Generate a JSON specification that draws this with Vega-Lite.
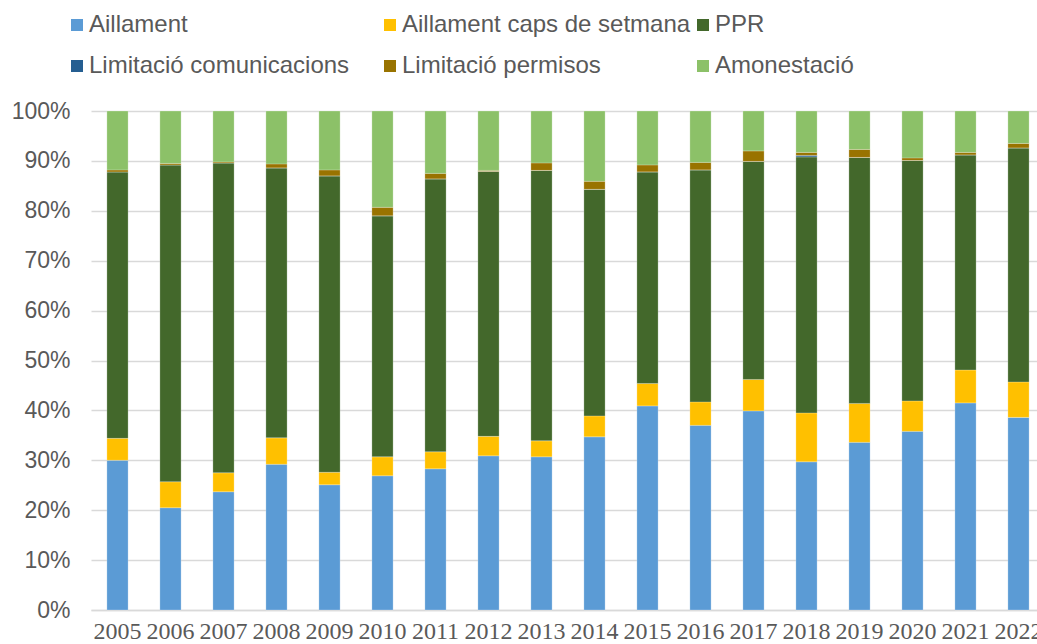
{
  "$schema": "https://vega.github.io/schema/vega-lite/v6.json",
  "width": 954,
  "height": 499,
  "autosize": {"type": "none"},
  "padding": {"left": 91, "top": 111, "right": 0, "bottom": 34},
  "background": "#ffffff",
  "config": {
    "view": {"stroke": null},
    "font": "Liberation Sans"
  },
  "data": {
    "values": [
      {"year": "2005", "Aillament": 30.0, "Aillament caps de setmana": 4.4, "PPR": 53.4, "Limitació comunicacions": 0, "Limitació permisos": 0.4, "Amonestació": 11.8},
      {"year": "2006", "Aillament": 20.5, "Aillament caps de setmana": 5.2, "PPR": 63.5, "Limitació comunicacions": 0, "Limitació permisos": 0.3, "Amonestació": 10.5},
      {"year": "2007", "Aillament": 23.7, "Aillament caps de setmana": 3.8, "PPR": 62.1, "Limitació comunicacions": 0, "Limitació permisos": 0.2, "Amonestació": 10.2},
      {"year": "2008", "Aillament": 29.2, "Aillament caps de setmana": 5.3, "PPR": 54.1, "Limitació comunicacions": 0, "Limitació permisos": 0.8, "Amonestació": 10.6},
      {"year": "2009", "Aillament": 25.1, "Aillament caps de setmana": 2.5, "PPR": 59.4, "Limitació comunicacions": 0, "Limitació permisos": 1.2, "Amonestació": 11.8},
      {"year": "2010", "Aillament": 26.9, "Aillament caps de setmana": 3.8, "PPR": 48.3, "Limitació comunicacions": 0, "Limitació permisos": 1.7, "Amonestació": 19.3},
      {"year": "2011", "Aillament": 28.3, "Aillament caps de setmana": 3.4, "PPR": 54.7, "Limitació comunicacions": 0, "Limitació permisos": 1.1, "Amonestació": 12.5},
      {"year": "2012", "Aillament": 30.9, "Aillament caps de setmana": 3.9, "PPR": 53.1, "Limitació comunicacions": 0, "Limitació permisos": 0.2, "Amonestació": 11.9},
      {"year": "2013", "Aillament": 30.7, "Aillament caps de setmana": 3.2, "PPR": 54.2, "Limitació comunicacions": 0, "Limitació permisos": 1.5, "Amonestació": 10.4},
      {"year": "2014", "Aillament": 34.7, "Aillament caps de setmana": 4.2, "PPR": 45.4, "Limitació comunicacions": 0, "Limitació permisos": 1.6, "Amonestació": 14.1},
      {"year": "2015", "Aillament": 40.9, "Aillament caps de setmana": 4.5, "PPR": 42.4, "Limitació comunicacions": 0, "Limitació permisos": 1.4, "Amonestació": 10.8},
      {"year": "2016", "Aillament": 37.0, "Aillament caps de setmana": 4.7, "PPR": 46.5, "Limitació comunicacions": 0, "Limitació permisos": 1.5, "Amonestació": 10.3},
      {"year": "2017", "Aillament": 39.9, "Aillament caps de setmana": 6.3, "PPR": 43.7, "Limitació comunicacions": 0, "Limitació permisos": 2.1, "Amonestació": 8.0},
      {"year": "2018", "Aillament": 29.7, "Aillament caps de setmana": 9.8, "PPR": 51.3, "Limitació comunicacions": 0.3, "Limitació permisos": 0.6, "Amonestació": 8.3},
      {"year": "2019", "Aillament": 33.6, "Aillament caps de setmana": 7.8, "PPR": 49.3, "Limitació comunicacions": 0, "Limitació permisos": 1.6, "Amonestació": 7.7},
      {"year": "2020", "Aillament": 35.8, "Aillament caps de setmana": 6.1, "PPR": 48.2, "Limitació comunicacions": 0, "Limitació permisos": 0.5, "Amonestació": 9.4},
      {"year": "2021", "Aillament": 41.5, "Aillament caps de setmana": 6.6, "PPR": 43.1, "Limitació comunicacions": 0, "Limitació permisos": 0.5, "Amonestació": 8.3},
      {"year": "2022", "Aillament": 38.6, "Aillament caps de setmana": 7.1, "PPR": 46.9, "Limitació comunicacions": 0, "Limitació permisos": 0.9, "Amonestació": 6.5}
    ]
  },
  "transform": [
    {"fold": ["Aillament", "Aillament caps de setmana", "PPR", "Limitació comunicacions", "Limitació permisos", "Amonestació"], "as": ["serie", "valor"]},
    {"calculate": "indexof(['Aillament','Aillament caps de setmana','PPR','Limitació comunicacions','Limitació permisos','Amonestació'], datum.serie)", "as": "ordre"}
  ],
  "mark": {"type": "bar", "stroke": "#ffffff", "strokeWidth": 0.4, "strokeOpacity": 0.6},
  "encoding": {
    "x": {
      "field": "year",
      "type": "ordinal",
      "scale": {"paddingInner": 0.6, "paddingOuter": 0.3},
      "axis": {
        "title": null,
        "labelAngle": 0,
        "labelFont": "Liberation Sans Narrow",
        "labelFontSize": 24,
        "labelColor": "#595959",
        "labelPadding": 9,
        "labelOverlap": false,
        "ticks": false,
        "domainColor": "#D9D9D9",
        "domainWidth": 1.3
      }
    },
    "y": {
      "field": "valor",
      "type": "quantitative",
      "stack": "normalize",
      "scale": {"domain": [0, 1], "nice": false},
      "axis": {
        "title": null,
        "values": [0, 0.1, 0.2, 0.3, 0.4, 0.5, 0.6, 0.7, 0.8, 0.9, 1],
        "format": ".0%",
        "labelFontSize": 23,
        "labelColor": "#595959",
        "labelPadding": 21,
        "ticks": false,
        "domain": false,
        "gridColor": "#D9D9D9",
        "gridWidth": 1.3
      }
    },
    "order": {"field": "ordre", "type": "quantitative", "sort": "ascending"},
    "color": {
      "field": "serie",
      "type": "nominal",
      "scale": {
        "domain": ["Aillament", "Aillament caps de setmana", "PPR", "Limitació comunicacions", "Limitació permisos", "Amonestació"],
        "range": ["#5B9BD5", "#FFC000", "#43682B", "#255E91", "#997300", "#8CC168"]
      },
      "legend": {
        "title": null,
        "orient": "none",
        "direction": "horizontal",
        "legendX": -26,
        "legendY": -98,
        "columns": 3,
        "gridAlign": "all",
        "columnPadding": -5,
        "rowPadding": 17,
        "padding": 0,
        "symbolType": "square",
        "symbolSize": 144,
        "symbolStrokeWidth": 0,
        "labelFontSize": 24,
        "labelColor": "#595959",
        "labelOffset": 0,
        "labelLimit": 400
      }
    }
  }
}
